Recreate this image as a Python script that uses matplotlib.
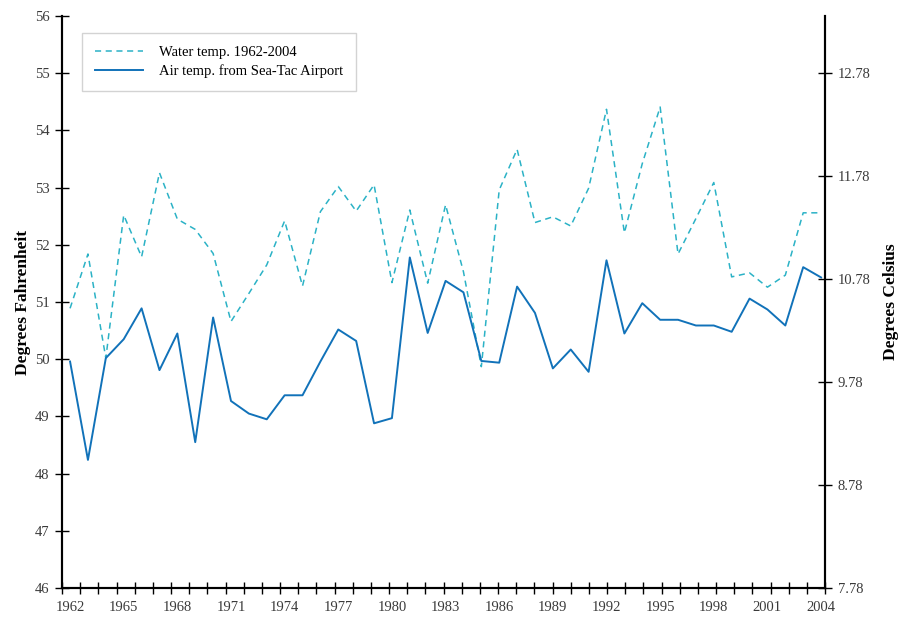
import matplotlib
matplotlib.use("Agg")
import matplotlib.pyplot as plt
import numpy as np

plt.rcParams['font.family'] = ['Liberation Serif', 'DejaVu Serif']

years = list(range(1962, 2005))
water_f = [50.89, 51.84, 50.02, 52.52, 51.79, 53.26, 52.45, 52.27, 51.85, 50.66,
           51.15, 51.65, 52.42, 51.28, 52.58, 53.02, 52.59, 53.05, 51.34, 52.61,
           51.33, 52.70, 51.53, 49.87, 52.96, 53.67, 52.39, 52.49, 52.33, 52.99,
           54.37, 52.21, 53.42, 54.41, 51.84, 52.46, 53.09, 51.44, 51.51, 51.26,
           51.47, 52.56, 52.56]
air_f = [49.96, 48.24, 50.02, 50.35, 50.89, 49.81, 50.45, 48.55, 50.73, 49.27,
         49.05, 48.95, 49.37, 49.37, 49.96, 50.52, 50.32, 48.88, 48.97, 51.78,
         50.46, 51.37, 51.17, 49.97, 49.94, 51.27, 50.81, 49.84, 50.17, 49.78,
         51.73, 50.45, 50.98, 50.69, 50.69, 50.59, 50.59, 50.48, 51.06, 50.87,
         50.59, 51.61, 51.43]
celsius_labels = ['7.78', '8.78', '9.78', '10.78', '11.78', '12.78']

water_col = '#2bb2c6'
air_col = '#1172b9'
label_col = '#3a3a3a'

fig, ax = plt.subplots(figsize=(9.08, 6.18), dpi=100)
fig.subplots_adjust(left=0.0683, right=0.9086, top=0.974, bottom=0.0485)

x = np.arange(len(years))
ax.plot(x, water_f, color=water_col, lw=1.1, ls=(0, (4, 3)), label='Water temp. 1962-2004')
ax.plot(x, air_f, color=air_col, lw=1.4, label='Air temp. from Sea-Tac Airport')

x0, x1 = -0.45, 42.22
ax.set_xlim(x0, x1)
ax.set_ylim(46, 56)
ax.set_yticks(range(46, 57))

# tick marks evenly across the axis, year labels at the data points
ax.set_xticks(np.linspace(x0, x1, 43))
ax.set_xticklabels([])
ax.set_xticks(x[::3], minor=True)
ax.set_xticklabels([str(y) for y in years[::3]], minor=True)
ax.tick_params(axis='x', which='major', direction='inout', length=8, width=1)
ax.tick_params(axis='x', which='minor', length=0, pad=9, labelsize=10.5, labelcolor=label_col)
ax.tick_params(axis='y', direction='inout', length=10, width=1, labelsize=10.5, pad=4,
               labelcolor=label_col)

ax2 = ax.twinx()
ax2.set_ylim(46, 56)
ax2.set_yticks([46 + 1.8 * k for k in range(len(celsius_labels))])
ax2.set_yticklabels(celsius_labels)
ax2.tick_params(axis='y', direction='inout', length=10, width=1, labelsize=10.5, pad=4,
                labelcolor=label_col)

for a in (ax, ax2):
    for s in a.spines.values():
        s.set_linewidth(1.5)
    a.spines['top'].set_visible(False)

ax.set_ylabel('Degrees Fahrenheit', fontsize=12.5, fontweight='bold', labelpad=3)
ax2.set_ylabel('Degrees Celsius', fontsize=12.5, fontweight='bold', labelpad=9)

leg = ax.legend(loc='upper left', bbox_to_anchor=(0.026, 0.971), borderaxespad=0,
                fontsize=10.5, frameon=True, fancybox=False, edgecolor='#c8c8c8',
                handlelength=3.3, borderpad=0.9, labelspacing=0.35, handletextpad=1.1)
leg.get_frame().set_linewidth(1.0)

fig.savefig('out.png', dpi=100)
